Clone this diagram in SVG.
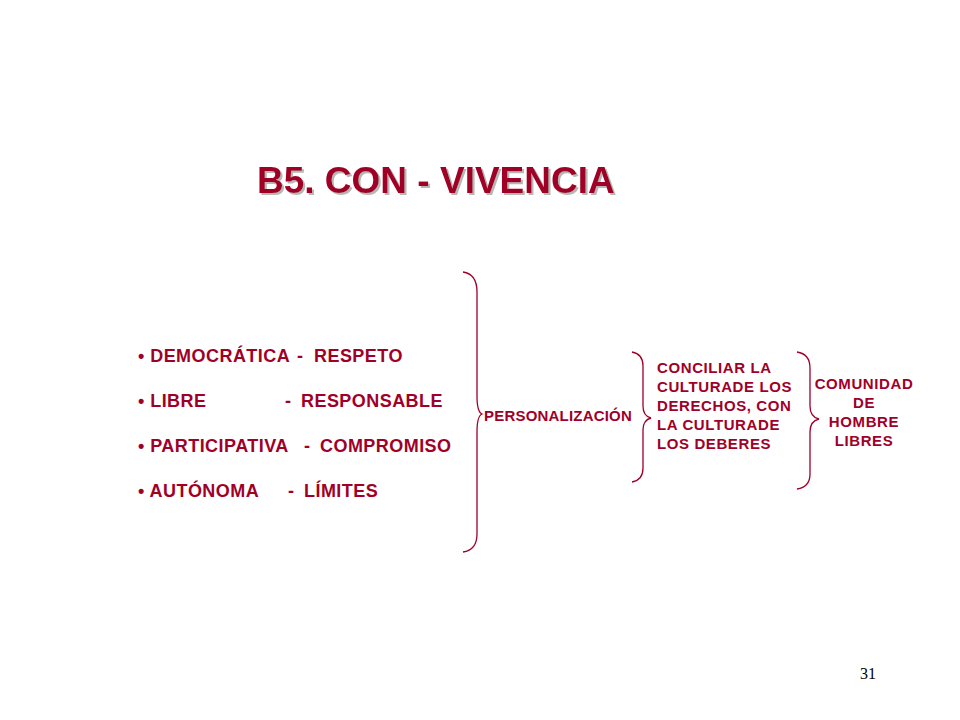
<svg xmlns="http://www.w3.org/2000/svg" width="960" height="720" viewBox="0 0 960 720">
<defs>
<filter id="sh" x="-5%" y="-20%" width="110%" height="140%">
<feDropShadow dx="2" dy="2" stdDeviation="0.6" flood-color="#999999" flood-opacity="0.7"/>
</filter>
</defs>
<style>
.t{font-family:"Liberation Sans",Arial,sans-serif;font-weight:bold;fill:#A00028;}
.b{font-size:18px;letter-spacing:0.45px;}
.s{font-size:15px;letter-spacing:0.6px;}
.br{fill:none;stroke:#A00028;stroke-width:1.3;}
</style>
<rect width="960" height="720" fill="#ffffff"/>
<g id="title">
<text x="257" y="193" class="t" style="font-size:37px" filter="url(#sh)">B5. CON - VIVENCIA</text>
</g>
<g id="list">
<text x="138" y="362" class="t b">• DEMOCRÁTICA</text>
<text x="297" y="362" class="t b">-</text>
<text x="314" y="362" class="t b">RESPETO</text>
<text x="138" y="407" class="t b">• LIBRE</text>
<text x="285" y="407" class="t b">-</text>
<text x="301" y="407" class="t b">RESPONSABLE</text>
<text x="138" y="452" class="t b">• PARTICIPATIVA</text>
<text x="304" y="452" class="t b">-</text>
<text x="320" y="452" class="t b">COMPROMISO</text>
<text x="138" y="497" class="t b">• AUTÓNOMA</text>
<text x="288" y="497" class="t b">-</text>
<text x="304" y="497" class="t b">LÍMITES</text>
</g>
<g id="personalizacion">
<text x="484" y="421" class="t" style="font-size:15px;letter-spacing:0.2px">PERSONALIZACIÓN</text>
</g>
<g id="conciliar">
<text class="t s" x="657" y="373">CONCILIAR LA</text>
<text class="t s" x="657" y="392">CULTURADE LOS</text>
<text class="t s" x="657" y="411">DERECHOS, CON</text>
<text class="t s" x="657" y="430">LA CULTURADE</text>
<text class="t s" x="657" y="449">LOS DEBERES</text>
</g>
<g id="comunidad">
<text class="t s" x="864" y="389" text-anchor="middle">COMUNIDAD</text>
<text class="t s" x="864" y="408" text-anchor="middle">DE</text>
<text class="t s" x="864" y="427" text-anchor="middle">HOMBRE</text>
<text class="t s" x="864" y="446" text-anchor="middle">LIBRES</text>
</g>
<g id="connectors">
<path class="br" d="M463,272 Q477,274 477,292 L477,396 Q477,412 482,414 Q477,416 477,432 L477,534 Q477,550 463,552"/>
<path class="br" d="M632,352 Q643,354 643,366 L643,406 Q643,416 651,418 Q643,420 643,430 L643,468 Q643,480 632,482"/>
<path class="br" d="M797,352 Q810,354 810,368 L810,406 Q810,417 819,419 Q810,421 810,432 L810,474 Q810,487 797,489"/>
</g>
<g id="page">
<text x="860" y="679" style="font-family:'Liberation Serif','Times New Roman',serif;font-size:16px;fill:#000">31</text>
</g>
</svg>
